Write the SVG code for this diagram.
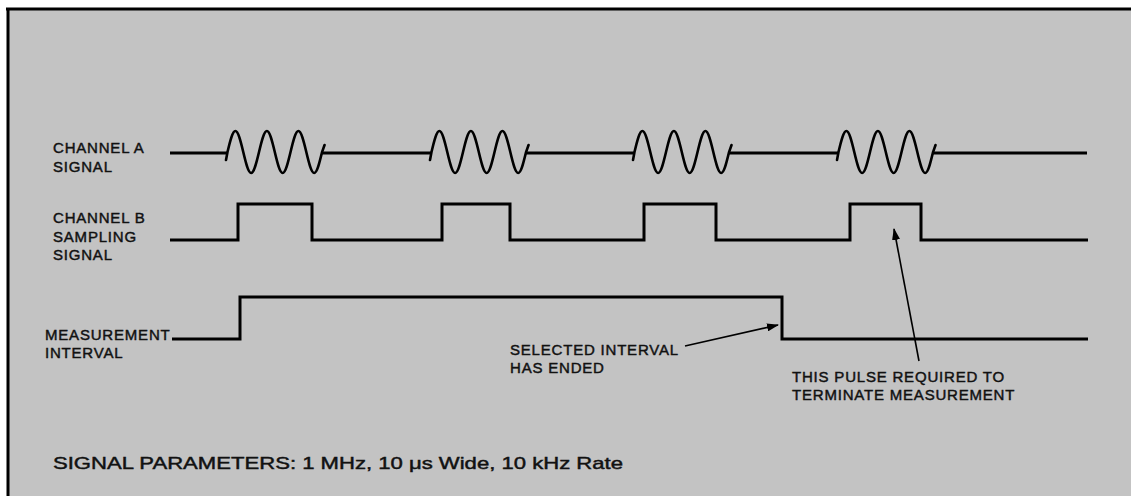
<svg xmlns="http://www.w3.org/2000/svg" width="1131" height="496" viewBox="0 0 1131 496">
<style>
.lbl{font-family:"Liberation Sans",Arial,sans-serif;font-size:15px;letter-spacing:0.8px;fill:#111;stroke:#111;stroke-width:0.45px}
.sig{fill:none;stroke:#000;stroke-width:3;stroke-linejoin:miter}
.wave{fill:none;stroke:#000;stroke-width:2.6;stroke-linecap:round}
.lead{fill:none;stroke:#000;stroke-width:1.6}
</style>
<defs>
<marker id="ah" markerWidth="12" markerHeight="8" refX="11" refY="4" orient="auto" markerUnits="userSpaceOnUse">
<path d="M0,0 L12,4 L0,8 Z" fill="#000"/>
</marker>
<path id="burst" d="M0,8 l1.5,-8 c2.63,-11.03 5.04,-21 7.88,-21 c2.83,0 5.24,9.97 7.88,21 c2.63,11.03 5.04,21 7.88,21 c2.83,0 5.24,-9.97 7.88,-21 c2.63,-11.03 5.04,-21 7.88,-21 c2.83,0 5.24,9.97 7.88,21 c2.63,11.03 5.04,21 7.88,21 c2.83,0 5.24,-9.97 7.88,-21 c2.63,-11.03 5.04,-21 7.88,-21 c2.83,0 5.24,9.97 7.88,21 c2.63,11.03 5.04,21 7.88,21 c2.83,0 5.24,-9.97 7.88,-21 l2.5,-7"/>
</defs>
<rect x="0" y="0" width="1131" height="496" fill="#ffffff"/>
<rect x="8" y="9" width="1123" height="487" fill="#c3c3c3"/>
<path d="M6,9 H1131 M8,8 V496" stroke="#000" stroke-width="3" fill="none"/>

<g id="channel-a">
<text class="lbl" x="53" y="153">CHANNEL A</text>
<text class="lbl" x="53" y="172">SIGNAL</text>
<path class="sig" d="M170,153 H227.5 M322,153 H431.5 M525,153 H634.5 M729,153 H838.5 M933,153 H1087"/>
<use href="#burst" class="wave" transform="translate(226,152)"/>
<use href="#burst" class="wave" transform="translate(430,152)"/>
<use href="#burst" class="wave" transform="translate(633,152)"/>
<use href="#burst" class="wave" transform="translate(837,152)"/>
</g>

<g id="channel-b">
<text class="lbl" x="53" y="223">CHANNEL B</text>
<text class="lbl" x="53" y="242">SAMPLING</text>
<text class="lbl" x="53" y="260">SIGNAL</text>
<path class="sig" d="M170,240 H238 V204 H312 V240 H442 V204 H510 V240 H644 V204 H716 V240 H850 V204 H921 V240 H1088"/>
</g>

<g id="measurement-interval">
<text class="lbl" x="45" y="340">MEASUREMENT</text>
<text class="lbl" x="45" y="358">INTERVAL</text>
<path class="sig" d="M172,339 H240 V297 H782 V339 H1088"/>
</g>

<g id="note-selected">
<text class="lbl" x="510" y="355">SELECTED INTERVAL</text>
<text class="lbl" x="510" y="373">HAS ENDED</text>
</g>

<g id="note-pulse">
<text class="lbl" x="792" y="382">THIS PULSE REQUIRED TO</text>
<text class="lbl" x="792" y="400">TERMINATE MEASUREMENT</text>
</g>

<g id="parameters">
<text class="lbl" x="53" y="469" style="font-size:17px;letter-spacing:0px" textLength="570" lengthAdjust="spacingAndGlyphs">SIGNAL PARAMETERS: 1 MHz, 10 μs Wide, 10 kHz Rate</text>
</g>

<g id="connectors">
<line class="lead" x1="685" y1="346" x2="778" y2="325" marker-end="url(#ah)"/>
<line class="lead" x1="919" y1="361" x2="894" y2="229" marker-end="url(#ah)"/>
</g>
</svg>
